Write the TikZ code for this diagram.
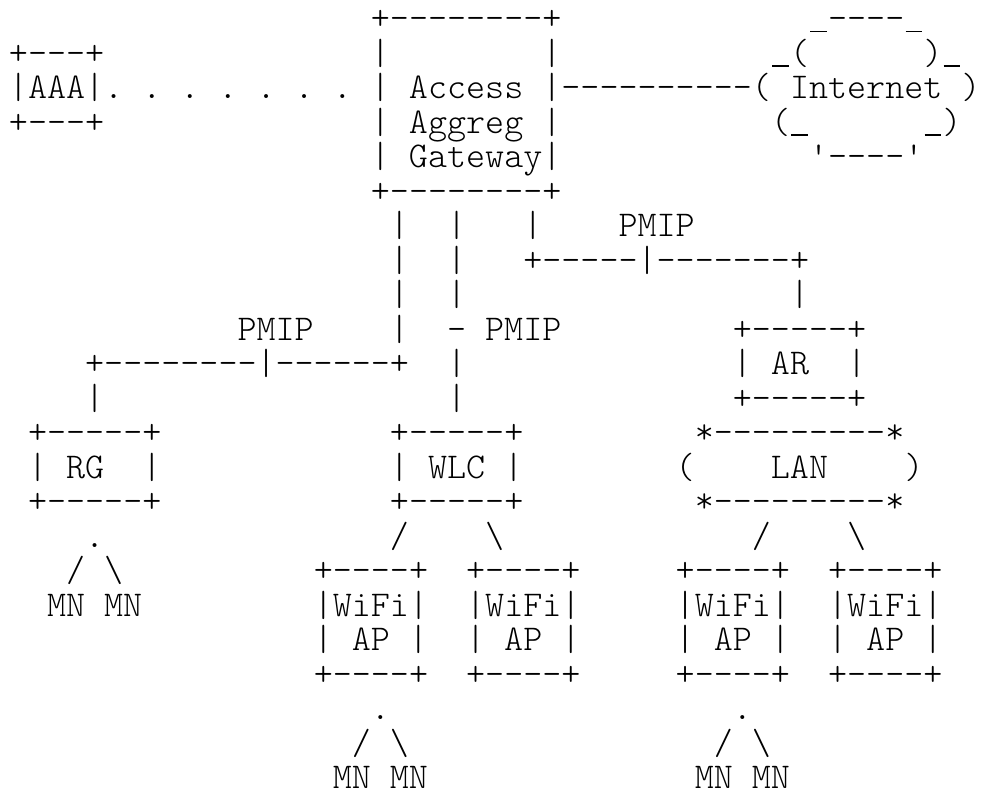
\documentclass[tikz,border=0pt]{standalone}
\usepackage{fontspec}
\setmonofont{lmmonolt10-regular.otf}
\usepackage{tikz}
\newcommand\usc{\makebox[0.525em]{\rule[-0.08em]{0.46em}{0.045em}}}

\begin{document}
\begin{tikzpicture}[x=14.2875pt,y=-25.875pt,
asc/.style={font=\ttfamily\fontsize{27.21pt}{25.875pt}\selectfont\frenchspacing,
inner sep=0pt,anchor=base west}]
\useasboundingbox (-0.457,-0.855) rectangle (51.09,22.07);

% AAA and the gateway
\node[asc] (aaaT) at (0,1) {+---+};
\node[asc] (aaa) at (0,2) {|AAA|};
\node[asc] (aaaB) at (0,3) {+---+};
\node[asc] (dots) at (5,2) {. . . . . . .};
\node[asc] (gwT) at (19,0) {+--------+};
\node[asc] (gw1) at (19,1) {|~~~~~~~~|};
\node[asc] (gw2) at (19,2) {| Access |};
\node[asc] (gw3) at (19,3) {| Aggreg |};
\node[asc] (gw4) at (19,4) {| Gateway|};
\node[asc] (gwB) at (19,5) {+--------+};

% internet cloud
\node[asc] (link) at (29,2) {----------};
\node[asc] (netT) at (42,0) {\usc----\usc};
\node[asc] (net1) at (40,1) {\usc(~~~~~~)\usc};
\node[asc] (net) at (39,2) {( Internet )};
\node[asc] (net3) at (40,3) {(\usc~~~~~~\usc)};
\node[asc] (netB) at (42,4) {'----'};

% PMIP tunnels
\node[asc] (v1a) at (20,6) {|};
\node[asc] (v2a) at (23,6) {|};
\node[asc] (v3a) at (27,6) {|};
\node[asc] (pmipR) at (32,6) {PMIP};
\node[asc] (v1b) at (20,7) {|};
\node[asc] (v2b) at (23,7) {|};
\node[asc] (tunR) at (27,7) {+-----|-------+};
\node[asc] (v1c) at (20,8) {|};
\node[asc] (v2c) at (23,8) {|};
\node[asc] (v4c) at (41,8) {|};
\node[asc] (pmipL) at (12,9) {PMIP};
\node[asc] (v1d) at (20,9) {|};
\node[asc] (pmipM) at (23,9) {- PMIP};
\node[asc] (tunL) at (4,10) {+--------|------+};
\node[asc] (v2e) at (23,10) {|};
\node[asc] (v0f) at (4,11) {|};
\node[asc] (v2f) at (23,11) {|};

% RG, WLC, AR and LAN
\node[asc] (arT) at (38,9) {+-----+};
\node[asc] (ar) at (38,10) {| AR~~|};
\node[asc] (arB) at (38,11) {+-----+};
\node[asc] (rgT) at (1,12) {+-----+};
\node[asc] (rg) at (1,13) {| RG~~|};
\node[asc] (rgB) at (1,14) {+-----+};
\node[asc] (wlcT) at (20,12) {+-----+};
\node[asc] (wlc) at (20,13) {| WLC |};
\node[asc] (wlcB) at (20,14) {+-----+};
\node[asc] (lanT) at (36,12) {*---------*};
\node[asc] (lan) at (35,13) {(~~~~LAN~~~~)};
\node[asc] (lanB) at (36,14) {*---------*};

% branches
\node[asc] (rgDot) at (4,15) {.};
\node[asc] (rgMN) at (3,16) {/ \textbackslash};
\node[asc] (mnA) at (2,17) {MN MN};
\node[asc] (wlcL) at (20,15) {/};
\node[asc] (wlcR) at (25,15) {\textbackslash};
\node[asc] (lanL) at (39,15) {/};
\node[asc] (lanR) at (44,15) {\textbackslash};

% WiFi access points
\foreach \c in {16,24,35,43}{
  \node[asc] (ap\c T) at (\c,16) {+----+};
  \node[asc] (ap\c) at (\c,17) {|WiFi|};
  \node[asc] (ap\c L) at (\c,18) {| AP |};
  \node[asc] (ap\c B) at (\c,19) {+----+};
}
\node[asc] (apDotA) at (19,20) {.};
\node[asc] (apMNA) at (18,21) {/ \textbackslash};
\node[asc] (mnB) at (17,22) {MN MN};
\node[asc] (apDotB) at (38,20) {.};
\node[asc] (apMNB) at (37,21) {/ \textbackslash};
\node[asc] (mnC) at (36,22) {MN MN};
\end{tikzpicture}
\end{document}
